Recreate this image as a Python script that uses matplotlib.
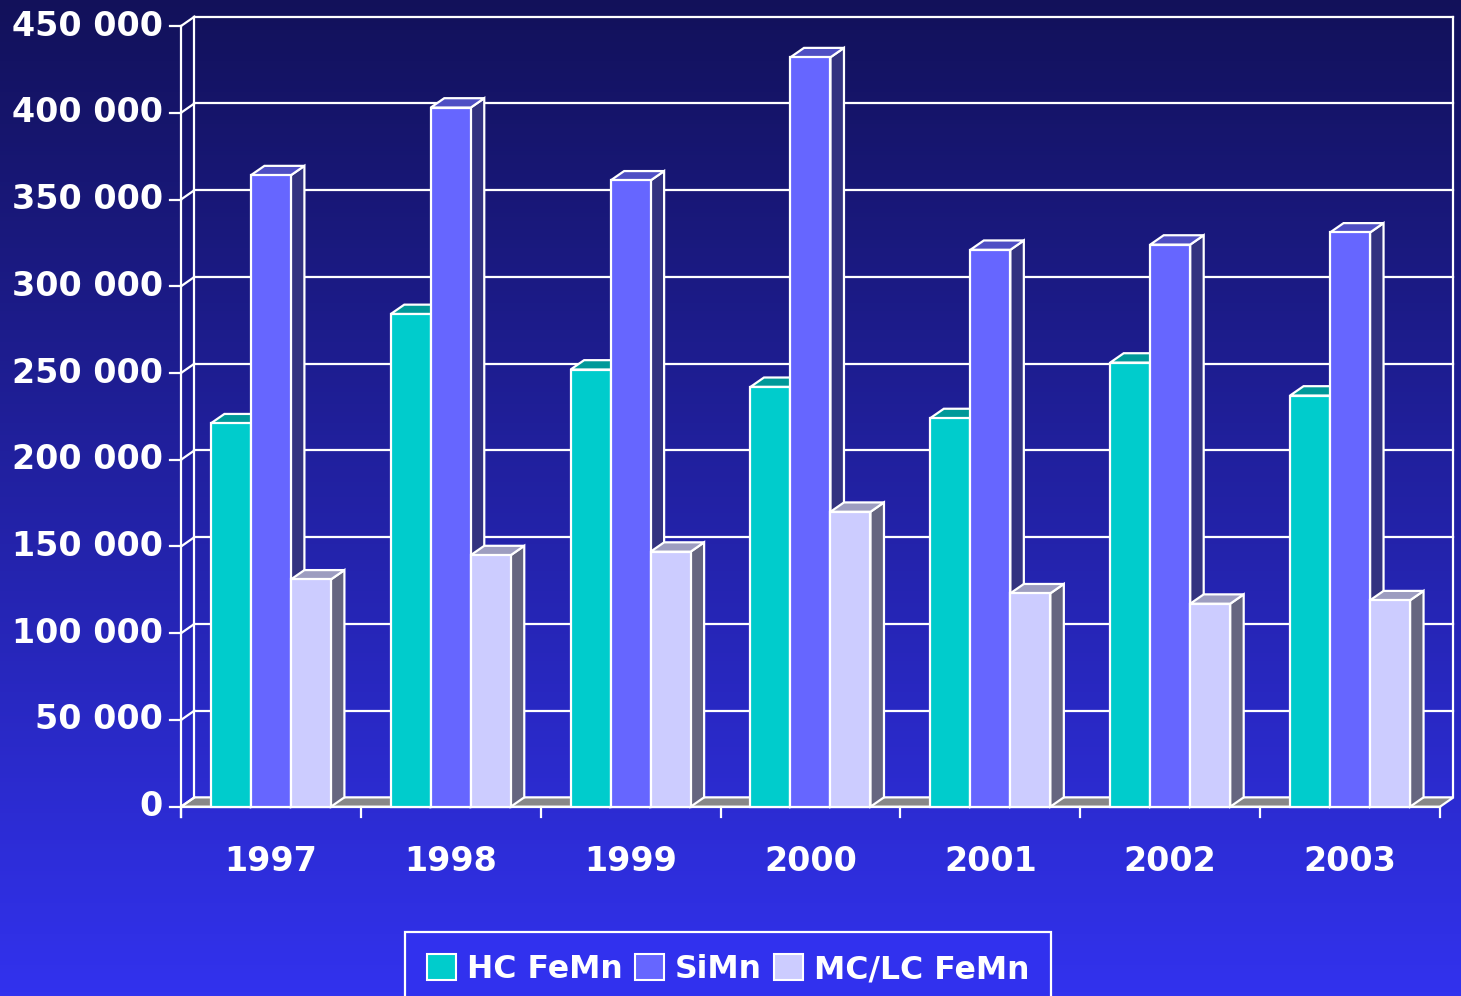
import numpy as np
import matplotlib.pyplot as plt
from matplotlib.patches import Polygon, Rectangle, Patch
from matplotlib.colors import LinearSegmentedColormap

# data (tonnes)
years = ['1997', '1998', '1999', '2000', '2001', '2002', '2003']
hc_femn = [221000, 284000, 252000, 242000, 224000, 256000, 237000]
simn = [364000, 403000, 361000, 432000, 321000, 324000, 331000]
mclc_femn = [131000, 145000, 147000, 170000, 123000, 117000, 119000]
series_names = ['HC FeMn', 'SiMn', 'MC/LC FeMn']
yticks = np.arange(0, 450001, 50000)

# front, top, side colours for each series
styles = [('#00cccc', '#009999', '#006666'),
          ('#6666ff', '#4f4fc4', '#333380'),
          ('#ccccff', '#9d9dc0', '#666680')]

plt.rcParams['font.family'] = 'DejaVu Sans'
plt.rcParams['font.weight'] = 'bold'

fig = plt.figure(figsize=(14.61, 9.96), dpi=100)
ax = fig.add_axes([0, 0, 1, 1])
x0, x1 = -1.5063, 6.6168
y0, y1 = -109100, 465000

# background gradient
grad = np.linspace(1, 0, 256).reshape(-1, 1)
cmap = LinearSegmentedColormap.from_list('bg', ['#3232ee', '#12115a'])
ax.imshow(grad, extent=[x0, x1, y0, y1], aspect='auto', cmap=cmap, zorder=0)
ax.set_xlim(x0, x1)
ax.set_ylim(y0, y1)
ax.axis('off')

dx, dy = 0.075, 5400      # depth offset of the 3d effect
bw = 0.2224               # bar width
tick_y = 5800
tick_x = 0.062
lw = 1.6
n = len(years)

# floor
ax.add_patch(Polygon([(-0.5, 0), (n - 0.5, 0), (n - 0.5 + dx, dy), (-0.5 + dx, dy)],
                     closed=True, facecolor='#888888', edgecolor='white', lw=lw, zorder=2))

# back wall grid
for v in yticks[1:]:
    ax.plot([-0.5 + dx, n - 0.5 + dx], [v + dy, v + dy], color='white', lw=lw, zorder=1)
for xb in [-0.5 + dx, n - 0.5 + dx]:
    ax.plot([xb, xb], [dy, yticks[-1] + dy], color='white', lw=lw, zorder=1)

# y axis (front) with ticks and connectors
ax.plot([-0.5, -0.5], [-tick_y, yticks[-1]], color='white', lw=lw, zorder=3)
for v in yticks:
    ax.plot([-0.5 - tick_x, -0.5], [v, v], color='white', lw=lw, zorder=3)
    ax.plot([-0.5, -0.5 + dx], [v, v + dy], color='white', lw=lw, zorder=3)
    ax.text(-0.6, v, f'{v:,}'.replace(',', ' '), color='white', fontsize=24,
            fontweight='bold', ha='right', va='center')

# x axis ticks and labels
ax.plot([-0.5, n - 0.5], [0, 0], color='white', lw=lw, zorder=3)
for i in range(n + 1):
    ax.plot([i - 0.5, i - 0.5], [0, -tick_y], color='white', lw=lw, zorder=3)
for i, yr in enumerate(years):
    ax.text(i, -31500, yr, color='white', fontsize=24, fontweight='bold',
            ha='center', va='center')

# 3d bars
z = 4
for i in range(n):
    for j, vals in enumerate([hc_femn, simn, mclc_femn]):
        v = vals[i]
        front, top, side = styles[j]
        xl = i + (j - 1.5) * bw
        xr = xl + bw
        ax.add_patch(Polygon([(xr, 0), (xr + dx, dy), (xr + dx, v + dy), (xr, v)],
                             closed=True, facecolor=side, edgecolor='white', lw=lw, zorder=z))
        ax.add_patch(Polygon([(xl, v), (xr, v), (xr + dx, v + dy), (xl + dx, v + dy)],
                             closed=True, facecolor=top, edgecolor='white', lw=lw, zorder=z))
        ax.add_patch(Rectangle((xl, 0), bw, v, facecolor=front, edgecolor='white',
                               lw=lw, zorder=z + 0.5))
        z += 1

handles = [Patch(facecolor=s[0], edgecolor='white', lw=1.5) for s in styles]
leg = fig.legend(handles, series_names, loc='upper center', bbox_to_anchor=(0.4985, 1 - 932 / 996),
                 ncol=3, frameon=True, fancybox=False, facecolor='#3131ee', edgecolor='white',
                 framealpha=1, prop={'size': 22.7, 'weight': 'bold'}, labelcolor='white',
                 handlelength=0.9, handleheight=0.9, handletextpad=0.35, columnspacing=0.4,
                 borderpad=0.7, borderaxespad=0)
leg.get_frame().set_linewidth(1.6)

fig.savefig('out.png', dpi=100)
